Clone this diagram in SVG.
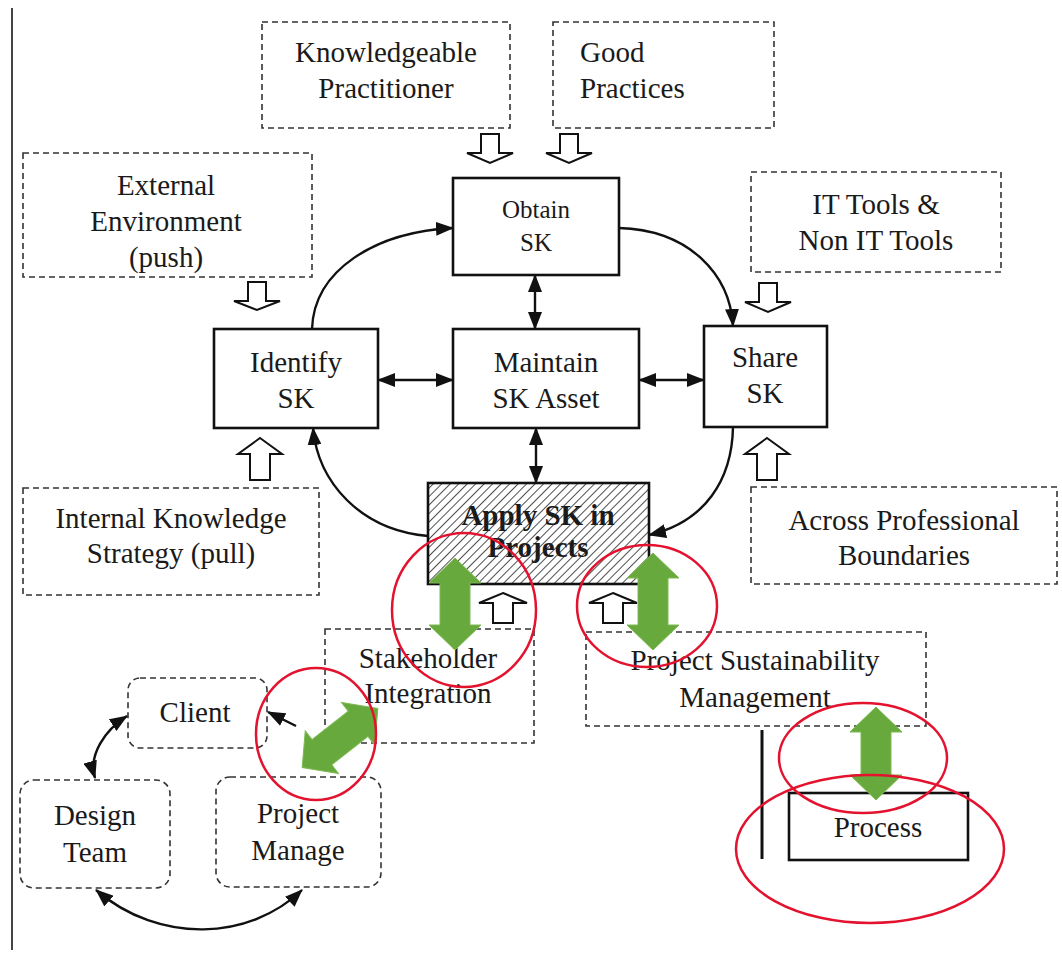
<svg xmlns="http://www.w3.org/2000/svg" width="1062" height="967" viewBox="0 0 1062 967" font-family="'Liberation Serif', 'Times New Roman', 'DejaVu Serif', serif">
<style>
text{font-family:'Liberation Serif','Times New Roman','DejaVu Serif',serif;font-size:29px;fill:#1a1a1a;text-anchor:middle}
.dash{fill:none;stroke:#333;stroke-width:1.6;stroke-dasharray:6 4}
.box{fill:#fff;stroke:#111;stroke-width:2.6}
.hollow{fill:#fff;stroke:#111;stroke-width:2;stroke-linejoin:miter}
.conn{fill:none;stroke:#111;stroke-width:2.4}
.green{fill:#68a93d;stroke:#7dba52;stroke-width:1}
.red{fill:none;stroke:#e3132f;stroke-width:2.5}
</style>
<defs>
<marker id="ah" viewBox="0 0 18 14" refX="17" refY="7" markerWidth="18" markerHeight="14" markerUnits="userSpaceOnUse" orient="auto-start-reverse">
<path d="M0,0 L18,7 L0,14 Z" fill="#111"/>
</marker>
<pattern id="hatch" width="6" height="6" patternUnits="userSpaceOnUse" patternTransform="rotate(45)">
<line x1="0" y1="0" x2="0" y2="6" stroke="#222" stroke-width="1.6"/>
</pattern>
</defs>
<rect width="1062" height="967" fill="#fff"/>
<line x1="12" y1="8" x2="12" y2="950" stroke="#444" stroke-width="2"/>

<g id="knowledgeable-practitioner">
<rect class="dash" x="262" y="22" width="248" height="106"/>
<text x="386" y="62">Knowledgeable</text>
<text x="386" y="98">Practitioner</text>
</g>
<g id="good-practices">
<rect class="dash" x="553" y="22" width="221" height="106"/>
<text x="580" y="62" style="text-anchor:start">Good</text>
<text x="580" y="98" style="text-anchor:start">Practices</text>
</g>
<g id="external-environment">
<rect class="dash" x="23" y="153" width="289" height="124"/>
<text x="166" y="195">External</text>
<text x="166" y="231">Environment</text>
<text x="166" y="267">(push)</text>
</g>
<g id="it-tools">
<rect class="dash" x="751" y="172" width="250" height="100"/>
<text x="876" y="214">IT Tools &amp;</text>
<text x="876" y="250">Non IT Tools</text>
</g>
<g id="obtain-sk">
<rect class="box" x="453" y="178" width="166" height="97"/>
<text x="536" y="218" style="font-size:25px">Obtain</text>
<text x="536" y="251" style="font-size:25px">SK</text>
</g>
<g id="identify-sk">
<rect class="box" x="214" y="329" width="164" height="99"/>
<text x="296" y="372">Identify</text>
<text x="296" y="408">SK</text>
</g>
<g id="maintain-sk-asset">
<rect class="box" x="453" y="329" width="186" height="99"/>
<text x="546" y="372">Maintain</text>
<text x="546" y="408">SK Asset</text>
</g>
<g id="share-sk">
<rect class="box" x="704" y="326" width="123" height="101"/>
<text x="765" y="367">Share</text>
<text x="765" y="403">SK</text>
</g>
<g id="internal-knowledge-strategy">
<rect class="dash" x="23" y="488" width="296" height="107"/>
<text x="171" y="528">Internal Knowledge</text>
<text x="171" y="563">Strategy (pull)</text>
</g>
<g id="across-professional-boundaries">
<rect class="dash" x="751" y="487" width="306" height="97"/>
<text x="904" y="530">Across Professional</text>
<text x="904" y="565">Boundaries</text>
</g>
<g id="apply-sk-in-projects">
<rect x="428" y="483" width="221" height="101" fill="#fff"/>
<text x="538" y="525" style="font-weight:bold">Apply SK in</text>
<text x="538" y="557" style="font-weight:bold">Projects</text>
<rect x="428" y="483" width="221" height="101" fill="url(#hatch)" stroke="#111" stroke-width="2.6"/>
</g>
<g id="stakeholder-integration">
<rect class="dash" x="325" y="629" width="209" height="114"/>
<text x="428" y="668">Stakeholder</text>
<text x="428" y="703">Integration</text>
</g>
<g id="project-sustainability-management">
<rect class="dash" x="586" y="632" width="340" height="94"/>
<text x="755" y="670">Project Sustainability</text>
<text x="755" y="707">Management</text>
</g>
<g id="client">
<rect class="dash" x="128" y="678" width="139" height="70" rx="12"/>
<text x="195" y="722">Client</text>
</g>
<g id="design-team">
<rect class="dash" x="20" y="780" width="150" height="108" rx="14"/>
<text x="95" y="825">Design</text>
<text x="95" y="862">Team</text>
</g>
<g id="project-manage">
<rect class="dash" x="216" y="777" width="165" height="110" rx="14"/>
<text x="298" y="823">Project</text>
<text x="298" y="860">Manage</text>
</g>
<g id="process">
<rect class="box" x="789" y="793" width="179" height="67"/>
<text x="878" y="837">Process</text>
</g>

<g id="connectors">
<polygon class="hollow" points="481,134 499,134 499,153 513,153 490,163 467,153 481,153"/>
<polygon class="hollow" points="560,134 578,134 578,153 592,153 569,163 546,153 560,153"/>
<polygon class="hollow" points="248,282 266,282 266,301 280,301 257,310 234,301 248,301"/>
<polygon class="hollow" points="759,283 777,283 777,302 791,302 768,312 745,302 759,302"/>
<polygon class="hollow" points="260,438 282,454 270,454 270,480 250,480 250,454 238,454"/>
<polygon class="hollow" points="767,438 789,454 777,454 777,480 757,480 757,454 745,454"/>
<polygon class="hollow" points="503,593 527,603 513,603 513,623 493,623 493,603 479,603"/>
<polygon class="hollow" points="613,593 637,603 623,603 623,623 603,623 603,603 589,603"/>

<path class="conn" d="M312,329 C314,270 375,232 453,228" marker-end="url(#ah)"/>
<path class="conn" d="M619,228 C690,230 730,275 733,326" marker-end="url(#ah)"/>
<path class="conn" d="M733,427 C732,480 705,522 649,535" marker-end="url(#ah)"/>
<path class="conn" d="M428,536 C360,530 318,482 313,428" marker-end="url(#ah)"/>
<line class="conn" x1="535" y1="275" x2="535" y2="329" marker-start="url(#ah)" marker-end="url(#ah)"/>
<line class="conn" x1="378" y1="380" x2="453" y2="380" marker-start="url(#ah)" marker-end="url(#ah)"/>
<line class="conn" x1="639" y1="380" x2="704" y2="380" marker-start="url(#ah)" marker-end="url(#ah)"/>
<line class="conn" x1="536" y1="428" x2="536" y2="483" marker-start="url(#ah)" marker-end="url(#ah)"/>
<path class="conn" d="M95,778 C88,755 105,730 127,716" marker-start="url(#ah)" marker-end="url(#ah)"/>
<path class="conn" d="M96,890 C160,945 250,940 302,890" marker-start="url(#ah)" marker-end="url(#ah)"/>
<line class="conn" x1="296" y1="726" x2="268" y2="712" marker-end="url(#ah)"/>
<line x1="762" y1="730" x2="762" y2="859" stroke="#111" stroke-width="3"/>

<polygon class="green" points="455,558 481,583 470,583 470,625 481,625 455,650 429,625 440,625 440,583 429,583"/>
<polygon class="green" points="653,553 679,578 668,578 668,625 679,625 653,650 627,625 638,625 638,578 627,578"/>
<polygon class="green" points="876,707 902,732 891,732 891,775 902,775 876,800 850,775 861,775 861,732 850,732"/>
<polygon class="green" transform="translate(340,738) rotate(-38)" points="-48,0 -23,-27 -23,-16 23,-16 23,-27 48,0 23,27 23,16 -23,16 -23,27"/>

<ellipse class="red" cx="464" cy="610" rx="72" ry="77"/>
<ellipse class="red" cx="647" cy="606" rx="70" ry="61"/>
<ellipse class="red" cx="316" cy="734" rx="60" ry="66"/>
<ellipse class="red" cx="863" cy="758" rx="84" ry="55"/>
<ellipse class="red" cx="870" cy="849" rx="134" ry="74"/>
</g>
</svg>
